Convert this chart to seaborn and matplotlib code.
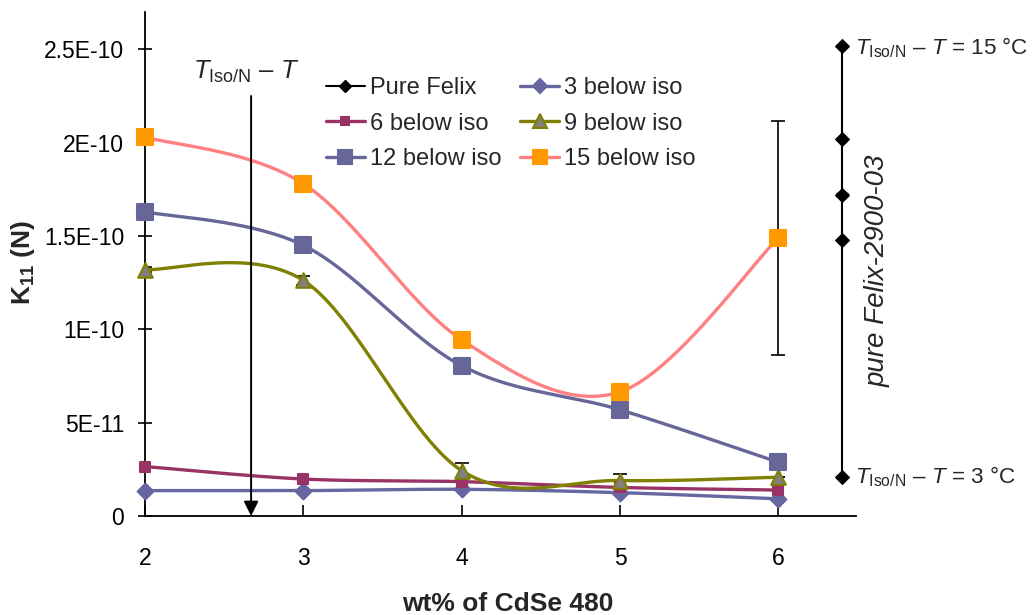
import numpy as np
import pandas as pd
import matplotlib
matplotlib.use("Agg")
import matplotlib.pyplot as plt
from matplotlib.lines import Line2D
import seaborn as sns

# ---------------- data ----------------
wt = [2, 3, 4, 5, 6]
k_3 = [1.36e-11, 1.36e-11, 1.43e-11, 1.25e-11, 0.92e-11]
k_6 = [2.65e-11, 1.98e-11, 1.84e-11, 1.53e-11, 1.39e-11]
k_9 = [1.32e-10, 1.262e-10, 2.43e-11, 1.90e-11, 2.08e-11]
k_12 = [1.63e-10, 1.45e-10, 8.05e-11, 5.69e-11, 2.88e-11]
k_15 = [2.03e-10, 1.78e-10, 9.44e-11, 6.65e-11, 1.49e-10]
err_9 = [0.12e-11, 0.25e-11, 0.42e-11, 0.35e-11, 0.0]
err_15 = [0.0, 0.0, 0.15e-11, 0.0, 6.25e-11]
felix_x = [6.4, 6.4, 6.4, 6.4, 6.4]
felix_k = [2.52e-10, 2.02e-10, 1.72e-10, 1.48e-10, 2.11e-11]
felix_err = [0.0, 0.0, 0.08e-11, 0.0, 0.0]
arrow_x = 2.67
yticks = [0, 5e-11, 1e-10, 1.5e-10, 2e-10, 2.5e-10]
ytick_labels = ["0", "5E-11", "1E-10", "1.5E-10", "2E-10", "2.5E-10"]
xticks = [2, 3, 4, 5, 6]

series = {
    "3 below iso": k_3,
    "6 below iso": k_6,
    "9 below iso": k_9,
    "12 below iso": k_12,
    "15 below iso": k_15,
}
styles = {
    "3 below iso": dict(line="#6666A0", mfc="#6666A0", mec="#6666A0", marker="D", ms=8),
    "6 below iso": dict(line="#993366", mfc="#993366", mec="#993366", marker="s", ms=6.5),
    "9 below iso": dict(line="#808000", mfc="#808080", mec="#808000", marker="^", ms=10.5),
    "12 below iso": dict(line="#666699", mfc="#666699", mec="#666699", marker="s", ms=11),
    "15 below iso": dict(line="#FF8080", mfc="#FF9900", mec="#FF9900", marker="s", ms=11),
}

# ---------------- style ----------------
sns.set_theme(style="white")
plt.rcParams["font.family"] = ["Liberation Sans", "DejaVu Sans"]
plt.rcParams["mathtext.fontset"] = "custom"
plt.rcParams["mathtext.rm"] = "Liberation Sans"
plt.rcParams["mathtext.it"] = "Liberation Sans:italic"
plt.rcParams["mathtext.bf"] = "Liberation Sans:bold"

FS_TICK = 16.5
FS_LEG = 17


def smooth(x, y, n=60):
    """Catmull-Rom style Bezier smoothing (like spreadsheet 'smoothed line')."""
    P = np.column_stack([np.asarray(x, float), np.asarray(y, float)])
    pts = []
    m = len(P)
    for i in range(m - 1):
        p0 = P[i - 1] if i > 0 else P[i]
        p1, p2 = P[i], P[i + 1]
        p3 = P[i + 2] if i + 2 < m else P[i + 1]
        c1 = p1 + (p2 - p0) / 6.0
        c2 = p2 - (p3 - p1) / 6.0
        t = np.linspace(0, 1, n)[:, None]
        seg = ((1 - t) ** 3) * p1 + 3 * ((1 - t) ** 2) * t * c1 + 3 * (1 - t) * t ** 2 * c2 + t ** 3 * p2
        pts.append(seg if i == 0 else seg[1:])
    S = np.vstack(pts)
    return S[:, 0], S[:, 1]


fig = plt.figure(figsize=(10.32, 6.15), dpi=100)
ax = fig.add_axes([145 / 1032, 1 - 516 / 615, (856 - 145) / 1032, (516 - 12) / 615])

# error bars (behind markers)
ax.errorbar(wt, k_9, yerr=err_9, fmt="none", ecolor="black", elinewidth=1.2, capsize=5, capthick=1.2, zorder=2)
ax.errorbar(wt, k_15, yerr=err_15, fmt="none", ecolor="black", elinewidth=1.2, capsize=5, capthick=1.2, zorder=2)

# smoothed series lines + markers
for name, vals in series.items():
    st = styles[name]
    sx, sy = smooth(wt, vals)
    ax.plot(sx, sy, color=st["line"], lw=2.4, zorder=3, solid_capstyle="round", clip_on=False)
    df = pd.DataFrame({"x": wt, "y": vals})
    sns.scatterplot(data=df, x="x", y="y", ax=ax, marker=st["marker"],
                    s=st["ms"] ** 2, color=st["mfc"], edgecolor=st["mec"],
                    linewidth=1.5, zorder=4, legend=False, clip_on=False)

# pure Felix
ax.errorbar(felix_x, felix_k, yerr=felix_err, fmt="none", ecolor="black", elinewidth=1.2, capsize=4, zorder=2)
dff = pd.DataFrame({"x": felix_x, "y": felix_k})
sns.lineplot(data=dff, x="x", y="y", ax=ax, color="black", lw=1.5, sort=False,
             marker="D", markersize=7, markeredgecolor="black", estimator=None, zorder=4,
             legend=False, clip_on=False)

# arrow
ax.annotate("", xy=(arrow_x, 0), xytext=(arrow_x, 2.25e-10),
            arrowprops=dict(arrowstyle="-|>", color="black", lw=1.4, mutation_scale=22,
                            shrinkA=0, shrinkB=0), zorder=5)
ax.text(2 + (246 - 145) / 158.3, (516 - 73) * 5.365e-13, r"$\mathit{T}_{\mathrm{Iso/N}}$ – $\mathit{T}$",
        fontsize=18.5, ha="center", va="center")

# right annotations
ax.text(6.485, 2.51e-10, r"$\mathit{T}_{\mathrm{Iso/N}}$ – $\mathit{T}$ = 15 °C",
        fontsize=16.2, ha="left", va="center", clip_on=False)
ax.text(6.485, 2.11e-11, r"$\mathit{T}_{\mathrm{Iso/N}}$ – $\mathit{T}$ = 3 °C",
        fontsize=16.2, ha="left", va="center", clip_on=False)
ax.text(2 + (877 - 145) / 158.3, (516 - 271) * 5.365e-13, "pure Felix-2900-03", rotation=90, style="italic",
        fontsize=20, ha="center", va="center", clip_on=False)

# axes
ax.set_xlim(2, 6.49)
ax.set_ylim(0, 2.70e-10)
ax.set_xticks(xticks)
ax.set_xticklabels([str(v) for v in xticks])
ax.set_yticks(yticks)
ax.set_yticklabels(ytick_labels)
for s in ["top", "right"]:
    ax.spines[s].set_visible(False)
for s in ["left", "bottom"]:
    ax.spines[s].set_color("black")
    ax.spines[s].set_linewidth(1.3)
ax.tick_params(axis="x", direction="in", length=8, width=1.2, pad=22, labelsize=FS_TICK, colors="black", bottom=True)
ax.tick_params(axis="y", direction="inout", length=10, width=1.2, pad=10, labelsize=FS_TICK, colors="black", left=True)
ax.set_xlabel("wt% of CdSe 480", fontsize=19, fontweight="bold")
ax.xaxis.set_label_coords(0.51, (516 - 604) / 504)
ax.xaxis.label.set_va("center")
ax.set_ylabel(r"$\mathbf{K_{11}\ (N)}$", fontsize=19)
ax.yaxis.set_label_coords((23 - 145) / 711, (516 - 262) / 504)
ax.yaxis.label.set_va("center")
ax.grid(False)

# legend
handles = [Line2D([], [], color="black", lw=1.5, marker="D", ms=6, mfc="black", mec="black")]
labels = ["Pure Felix"]
for name in series:
    st = styles[name]
    handles.append(Line2D([], [], color=st["line"], lw=2.4, marker=st["marker"], ms=st["ms"] * 0.9,
                          mfc=st["mfc"], mec=st["mec"], mew=1.5))
    labels.append(name)
order = [0, 2, 4, 1, 3, 5]
leg = ax.legend([handles[i] for i in order], [labels[i] for i in order], ncol=2, frameon=False,
                loc="upper left", bbox_to_anchor=(326 / 1032, 1 - 77 / 615), bbox_transform=fig.transFigure,
                fontsize=FS_LEG, handlelength=1.65, handletextpad=0.2, columnspacing=0.8, labelspacing=0.58,
                borderaxespad=0, borderpad=0)

fig.savefig("out.png", dpi=100)
